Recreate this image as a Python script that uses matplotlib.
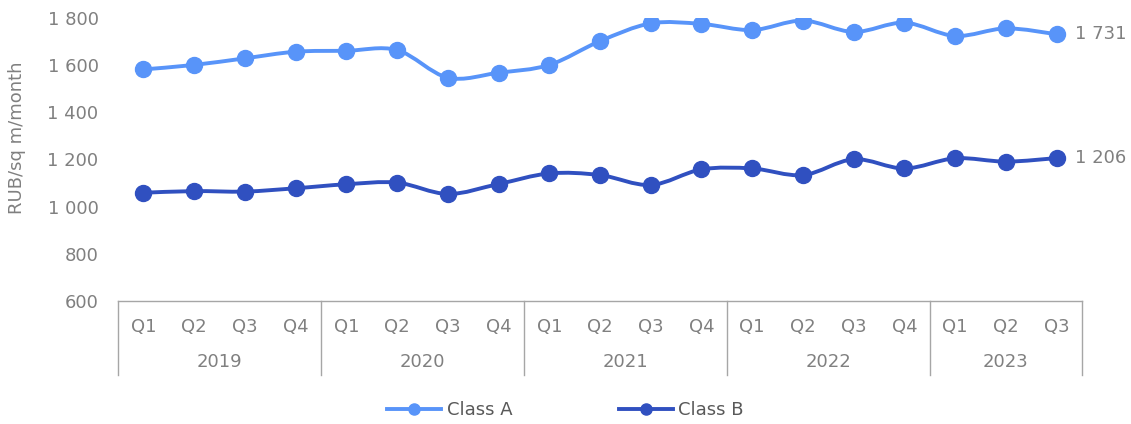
import matplotlib
matplotlib.use("Agg")
import matplotlib.pyplot as plt
import numpy as np
from matplotlib.path import Path
from matplotlib.patches import PathPatch
from matplotlib.lines import Line2D
from matplotlib.ticker import FuncFormatter

years = ["2019", "2020", "2021", "2022", "2023"]
quarters_per_year = [4, 4, 4, 4, 3]
quarter_labels = ["Q1", "Q2", "Q3", "Q4"] * 4 + ["Q1", "Q2", "Q3"]
class_a = [1582, 1601, 1629, 1657, 1661, 1664, 1547, 1568, 1601, 1702,
           1777, 1775, 1749, 1789, 1741, 1780, 1724, 1756, 1731]
class_b = [1059, 1066, 1064, 1078, 1095, 1102, 1054, 1096, 1141, 1134,
           1092, 1158, 1162, 1134, 1201, 1162, 1205, 1191, 1206]
series_names = ["Class A", "Class B"]
colors = ["#5894F9", "#3050C0"]
yticks = [600, 800, 1000, 1200, 1400, 1600, 1800]

plt.rcParams['font.family'] = ['DejaVu Sans']
GRAY = "#808080"
AXGRAY = "#A6A6A6"
FS = 13

fig = plt.figure(figsize=(11.31, 4.24), dpi=100)
ax = fig.add_axes([118/1131, 1 - 301/424, (1082-118)/1131, (301-18)/424])

def smooth_path(xs, ys):
    pts = np.column_stack([xs, ys]).astype(float)
    n = len(pts)
    verts = [pts[0]]
    codes = [Path.MOVETO]
    for i in range(n - 1):
        p0 = pts[i - 1] if i > 0 else pts[i]
        p1 = pts[i]
        p2 = pts[i + 1]
        p3 = pts[i + 2] if i + 2 < n else pts[i + 1]
        c1 = p1 + (p2 - p0) / 6.0
        c2 = p2 - (p3 - p1) / 6.0
        verts += [c1, c2, p2]
        codes += [Path.CURVE4] * 3
    return Path(verts, codes)

x = np.arange(len(quarter_labels))
for vals, col in zip([class_a, class_b], colors):
    patch = PathPatch(smooth_path(x, vals), fill=False, edgecolor=col,
                      linewidth=2.8, capstyle='round', joinstyle='round', zorder=2)
    ax.add_patch(patch)
    ax.plot(x, vals, linestyle='none', marker='o', markersize=11.5,
            color=col, zorder=3)
    ax.text(x[-1] + 0.36, vals[-1], f"{vals[-1]:,}".replace(",", " "),
            va='center', ha='left', fontsize=FS, color=GRAY)

ax.set_xlim(-0.5, len(quarter_labels) - 0.5)
ax.set_ylim(600, 1800)
ax.set_yticks(yticks)
ax.yaxis.set_major_formatter(FuncFormatter(lambda v, p: f"{int(v):,}".replace(",", " ")))
ax.tick_params(axis='y', length=0, pad=14, labelsize=FS, labelcolor=GRAY)
ax.set_xticks([])
for s in ['left', 'right', 'top']:
    ax.spines[s].set_visible(False)
ax.spines['bottom'].set_color(AXGRAY)
ax.spines['bottom'].set_linewidth(1.0)

trans = ax.get_xaxis_transform()
for i, q in enumerate(quarter_labels):
    ax.text(i, -0.092, q, transform=trans, ha='center', va='center',
            fontsize=FS, color=GRAY)
start = -0.5
bounds = [start]
for yr, nq in zip(years, quarters_per_year):
    mid = start + nq / 2.0
    ax.text(mid, -0.216, yr, transform=trans, ha='center', va='center',
            fontsize=FS, color=GRAY)
    start += nq
    bounds.append(start)
for b in bounds:
    ax.plot([b, b], [0, -0.262], transform=trans, color=AXGRAY,
            linewidth=1.0, clip_on=False)

fig.text(17/1131, 1 - 138/424, "RUB/sq m/month", rotation=90, ha='center',
         va='center', fontsize=FS, color=GRAY)

handles = [Line2D([0], [0], color=c, linewidth=2.8, marker='o', markersize=8)
           for c in colors]
fig.legend(handles, series_names, loc='center', bbox_to_anchor=(0.5, 1 - 410/424),
           ncol=2, frameon=False, fontsize=FS, handlelength=3.0, handletextpad=0.3,
           columnspacing=5.9, labelcolor="#595959")

fig.savefig("out.png", dpi=100)
